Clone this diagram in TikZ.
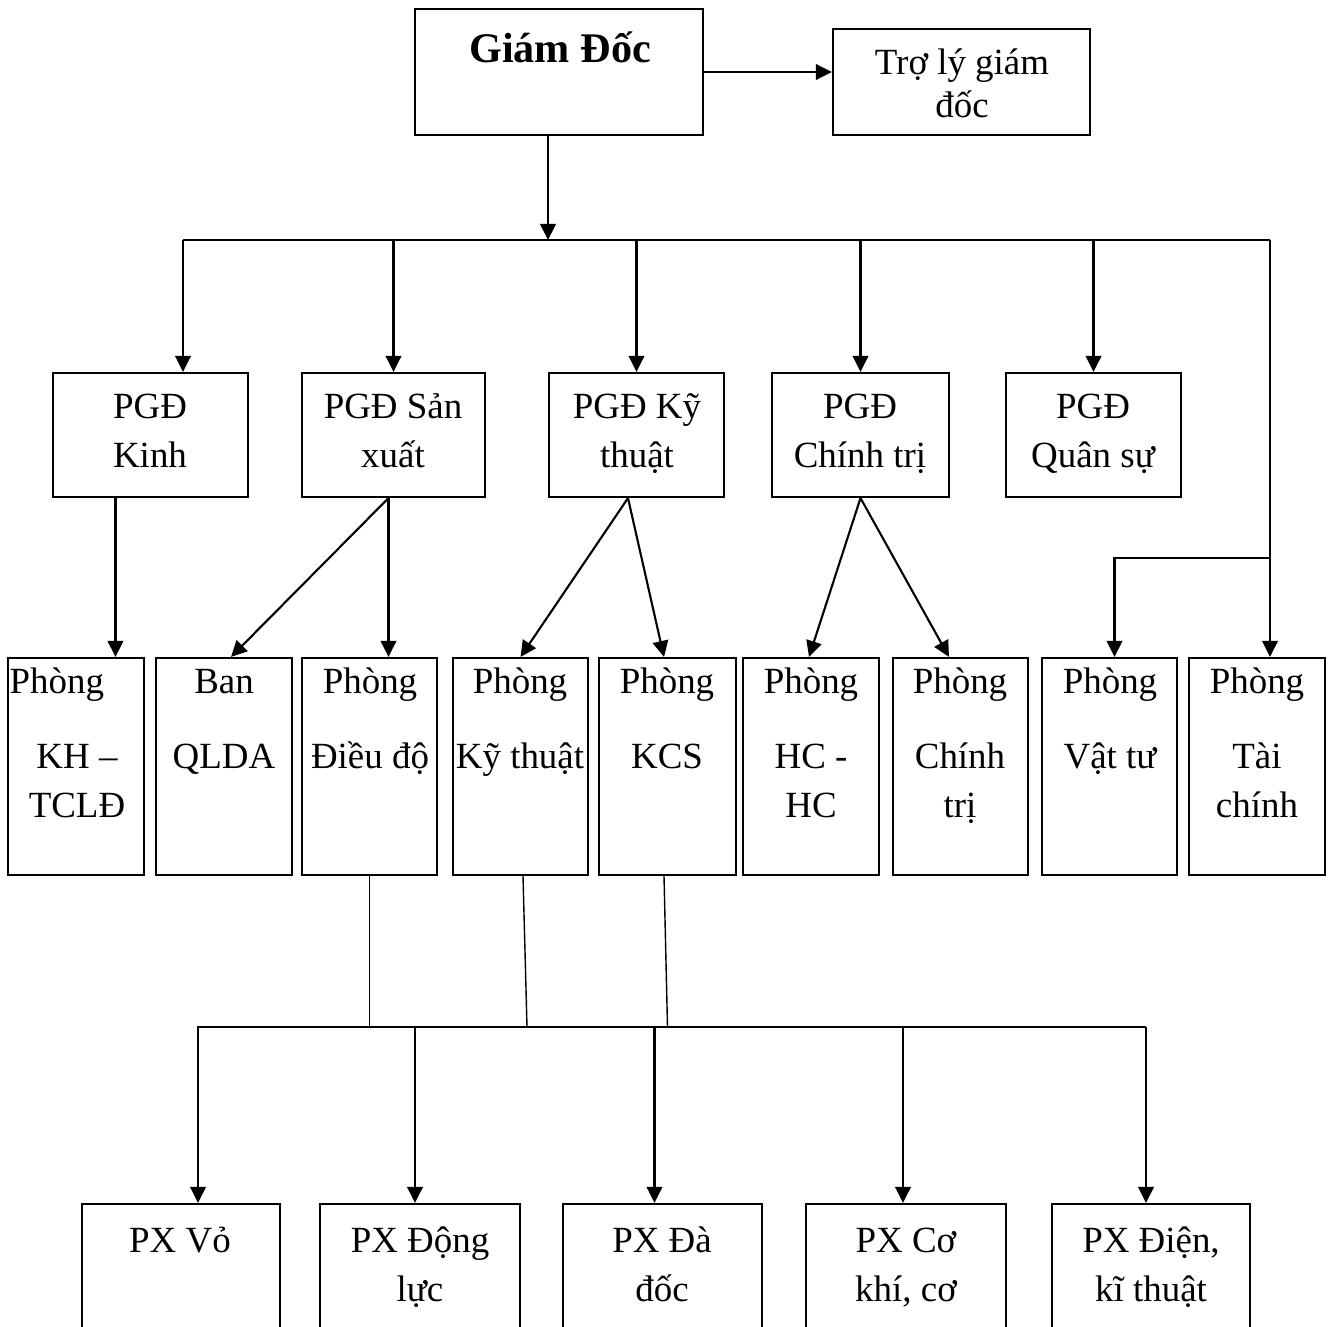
\documentclass[tikz,border=0pt]{standalone}
\usepackage{fontspec}
\setmainfont{Liberation Serif}
\usetikzlibrary{arrows.meta}
\usetikzlibrary{fit}

\tikzset{
	box/.style={draw, line width=0.6pt, inner sep=0pt},
	txt/.style={align=center, inner sep=0pt, anchor=north, font=\fontsize{10.5}{13.9}\selectfont},
	arr/.style={line width=0.6pt, -{Triangle[length=0.16cm, width=0.155cm]}},
	link/.style={line width=0.4pt},
}

\begin{document}
\begin{tikzpicture}[x=0.01cm, y=-0.01cm] % one unit = one pixel of the chart
	\useasboundingbox (0,0) rectangle (1333,1327);
	
	% Top level
	\node[box, fit={(415,9) (703,135)}] (gd) {};
	\node[box, fit={(833,29) (1090,135)}] (tl) {};
	\node[txt, font=\fontsize{12}{14}\selectfont\bfseries] (t-gd) at (560,27) {\strut Giám Đốc};
	\node[txt] (t-tl) at (962,40) {\strut Trợ lý giám\\[-0.06cm]đốc};
	
	% Deputy directors
	\node[box, fit={(53,373) (248,497)}] (kinh) {};
	\node[box, fit={(302,373) (485,497)}] (sx) {};
	\node[box, fit={(549,373) (724,497)}] (kt) {};
	\node[box, fit={(772,373) (949,497)}] (ct) {};
	\node[box, fit={(1006,373) (1181,497)}] (qs) {};
	\node[txt] (t-kinh) at (150,384) {\strut PGĐ\\Kinh};
	\node[txt] (t-sx) at (393,384) {\strut PGĐ Sản\\xuất};
	\node[txt] (t-kt) at (637,384) {\strut PGĐ Kỹ\\thuật};
	\node[txt] (t-ct) at (860,384) {\strut PGĐ\\Chính trị};
	\node[txt] (t-qs) at (1093,384) {\strut PGĐ\\Quân sự};
	
	% Offices
	\node[box, fit={(8,658) (144,875)}] (kh) {};
	\node[box, fit={(156,658) (292,875)}] (ban) {};
	\node[box, fit={(302,658) (437,875)}] (dd) {};
	\node[box, fit={(453,658) (588,875)}] (pkt) {};
	\node[box, fit={(599,658) (736,875)}] (kcs) {};
	\node[box, fit={(743,658) (879,875)}] (hc) {};
	\node[box, fit={(893,658) (1028,875)}] (pct) {};
	\node[box, fit={(1042,658) (1177,875)}] (vt) {};
	\node[box, fit={(1189,658) (1325,875)}] (tc) {};
	\node[txt, anchor=north west] (t-kh1) at (9,659) {\strut Phòng};
	\node[txt] (t-kh2) at (77,734) {\strut KH –\\TCLĐ};
	\node[txt] (t-ban) at (224,659) {\strut Ban\\[0.26cm]QLDA};
	\node[txt] (t-dd) at (370,659) {\strut Phòng\\[0.26cm]Điều độ};
	\node[txt] (t-pkt) at (520,659) {\strut Phòng\\[0.26cm]Kỹ thuật};
	\node[txt] (t-kcs) at (667,659) {\strut Phòng\\[0.26cm]KCS};
	\node[txt] (t-hc) at (811,659) {\strut Phòng\\[0.26cm]HC -\\HC};
	\node[txt] (t-pct) at (960,659) {\strut Phòng\\[0.26cm]Chính\\trị};
	\node[txt] (t-vt) at (1110,659) {\strut Phòng\\[0.26cm]Vật tư};
	\node[txt] (t-tc) at (1257,659) {\strut Phòng\\[0.26cm]Tài\\chính};
	
	% Workshops (cut off at the bottom)
	\node[box, fit={(82,1204) (280,1345)}] (px1) {};
	\node[box, fit={(320,1204) (520,1345)}] (px2) {};
	\node[box, fit={(563,1204) (762,1345)}] (px3) {};
	\node[box, fit={(806,1204) (1006,1345)}] (px4) {};
	\node[box, fit={(1052,1204) (1250,1345)}] (px5) {};
	\node[txt] (t-px1) at (180,1218) {\strut PX Vỏ};
	\node[txt] (t-px2) at (420,1218) {\strut PX Động\\lực};
	\node[txt] (t-px3) at (662,1218) {\strut PX Đà\\đốc};
	\node[txt] (t-px4) at (906,1218) {\strut PX Cơ\\khí, cơ};
	\node[txt] (t-px5) at (1151,1218) {\strut PX Điện,\\kĩ thuật};
	
	% Director to assistant and to the bus
	\coordinate (bus) at (548,240);
	\coordinate (busL) at (183,240);
	\coordinate (busR) at (1270,240);
	\coordinate (fork) at (1270,558);
	\draw[arr] (gd.east) -- (gd.east -| tl.west);
	\draw[arr] (bus |- gd.south) -- (bus);
	\draw[line width=0.6pt] (busL) -- (busR);
	\draw[arr] (busL) -- (busL |- kinh.north);
	\foreach \n in {sx,kt,ct,qs}
		\draw[arr] (\n.north |- bus) -- (\n.north);
	\draw[arr] (busR) -- (busR |- tc.north);
	\draw[arr] (fork) -| ([xshift=0.05cm]vt.north);
	
	% Deputies to offices
	\draw[arr] ([xshift=-0.35cm]kinh.south) -- ([xshift=-0.35cm]kinh.south |- kh.north);
	\coordinate (sxo) at ([xshift=-0.05cm]sx.south);
	\draw[arr] (sxo) -- ([xshift=0.07cm]ban.north);
	\draw[arr] (sxo) -- (sxo |- dd.north);
	\coordinate (kto) at ([xshift=-0.085cm]kt.south);
	\draw[arr] (kto) -- (pkt.north);
	\draw[arr] (kto) -- ([xshift=-0.035cm]kcs.north);
	\draw[arr] (ct.south) -- ([xshift=-0.02cm]hc.north);
	\draw[arr] (ct.south) -- ([xshift=-0.115cm]pct.north);
	
	% Offices to workshops
	\coordinate (pbL) at (197,1027);
	\coordinate (pbR) at (1146,1027);
	\draw[link] (dd.south) -- (dd.south |- pbL);
	\draw[link] ([xshift=0.025cm]pkt.south) -- ([xshift=0.065cm]pkt.south |- pbL);
	\draw[link] ([xshift=-0.035cm]kcs.south) -- (kcs.south |- pbL);
	\draw[line width=0.7pt] (pbL) -- (pbR);
	\foreach \n/\dx in {px1/0.17cm, px2/-0.05cm, px3/-0.08cm, px4/-0.03cm, px5/-0.05cm}
		\draw[arr] ([xshift=\dx]\n.north |- pbL) -- ([xshift=\dx]\n.north);
\end{tikzpicture}
\end{document}
